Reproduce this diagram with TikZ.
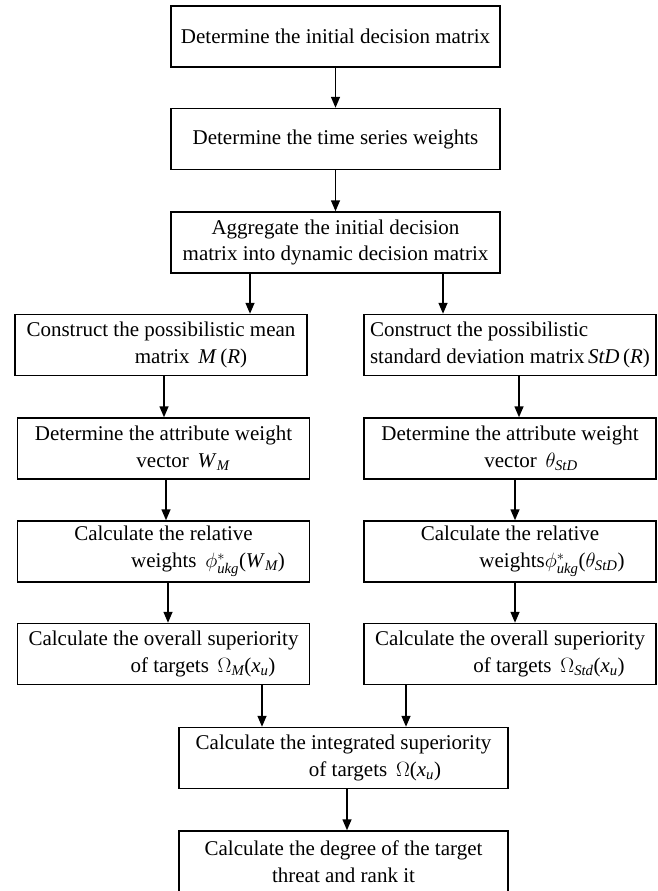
\documentclass[tikz,border=0pt]{standalone}
\usepackage{amsmath}
\usepackage{fontspec}
\setmainfont{Liberation Serif}
\usetikzlibrary{arrows.meta}

\begin{document}
\begin{tikzpicture}[x=1pt, y=-1pt, >={Triangle[length=11pt,width=9pt]}]
            \tikzstyle{block}=[draw, line width=1.5pt, align=center, minimum height=61pt, inner sep=3pt, font=\fontsize{21}{26.7}\selectfont]
            \tikzstyle{wide}=[block, minimum width=329pt]
            \tikzstyle{half}=[block, minimum width=292pt]
            \useasboundingbox (0,0) rectangle (657,891);

            \node[wide] (S_1) at (335.5,36.5)  {Determine the initial decision matrix};
            \node[wide] (S_2) at (335.5,139)   {Determine the time series weights};
            \node[wide] (S_3) at (335.5,242.5) {Aggregate the initial decision\\matrix into dynamic decision matrix};

            \node[half] (L_1) at (161,345)   {Construct the possibilistic mean\\\hspace*{60pt}matrix \,\textit{M}\,(\textit{R})};
            \node[half, align=left] (R_1) at (510,345) {Construct the possibilistic\\standard deviation matrix\,\textit{StD}\,(\textit{R})};
            \node[half] (L_2) at (163.5,448.5) {Determine the attribute weight\\\hspace*{39pt}vector \,\textit{W}$_{\textit{M}}$};
            \node[half] (R_2) at (510,448.5) {Determine the attribute weight\\\hspace*{42pt}vector \,$\theta_{\textit{StD}}$};
            \node[half] (L_3) at (163.5,551.5) {Calculate the relative\\\hspace*{89pt}weights \,$\phi^{*}_{\textit{ukg}}$(\textit{W}$_{\textit{M}}$)};
            \node[half] (R_3) at (510,551.5) {Calculate the relative\\\hspace*{84pt}weights$\phi^{*}_{\textit{ukg}}$($\theta_{\textit{StD}}$)};
            \node[half] (L_4) at (163.5,654) {Calculate the overall superiority\\\hspace*{79pt}of targets \,$\Omega_{\textit{M}}$(\textit{x}$_{\textit{u}}$)};
            \node[half] (R_4) at (510,654)   {Calculate the overall superiority\\\hspace*{78pt}of targets \,$\Omega_{\textit{Std}}$(\textit{x}$_{\textit{u}}$)};

            \node[wide] (S_4) at (343.5,758)   {Calculate the integrated superiority\\\hspace*{63pt}of targets \,$\Omega$(\textit{x}$_{\textit{u}}$)};
            \node[wide] (S_5) at (343.5,861.5) {Calculate the degree of the target\\threat and rank it};

            \coordinate (a_1) at (250,0);
            \coordinate (a_2) at (443,0);
            \coordinate (a_3) at (164,0);
            \coordinate (a_4) at (166,0);
            \coordinate (a_5) at (168,0);
            \coordinate (a_6) at (519,0);
            \coordinate (a_7) at (515,0);
            \coordinate (a_8) at (262,0);
            \coordinate (a_9) at (406,0);
            \coordinate (a_10) at (347,0);

            \draw[->, line width=1.5pt] (S_1) -- (S_2);
            \draw[->, line width=1.5pt] (S_2) -- (S_3);
            \draw[->, line width=1.5pt] (S_3.south -| a_1) -- (L_1.north -| a_1);
            \draw[->, line width=1.5pt] (S_3.south -| a_2) -- (R_1.north -| a_2);
            \draw[->, line width=1.5pt] (L_1.south -| a_3) -- (L_2.north -| a_3);
            \draw[->, line width=1.5pt] (L_2.south -| a_4) -- (L_3.north -| a_4);
            \draw[->, line width=1.5pt] (L_3.south -| a_5) -- (L_4.north -| a_5);
            \draw[->, line width=1.5pt] (R_1.south -| a_6) -- (R_2.north -| a_6);
            \draw[->, line width=1.5pt] (R_2.south -| a_7) -- (R_3.north -| a_7);
            \draw[->, line width=1.5pt] (R_3.south -| a_7) -- (R_4.north -| a_7);
            \draw[->, line width=1.5pt] (L_4.south -| a_8) -- (S_4.north -| a_8);
            \draw[->, line width=1.5pt] (R_4.south -| a_9) -- (S_4.north -| a_9);
            \draw[->, line width=1.5pt] (S_4.south -| a_10) -- (S_5.north -| a_10);
        \end{tikzpicture}
\end{document}
